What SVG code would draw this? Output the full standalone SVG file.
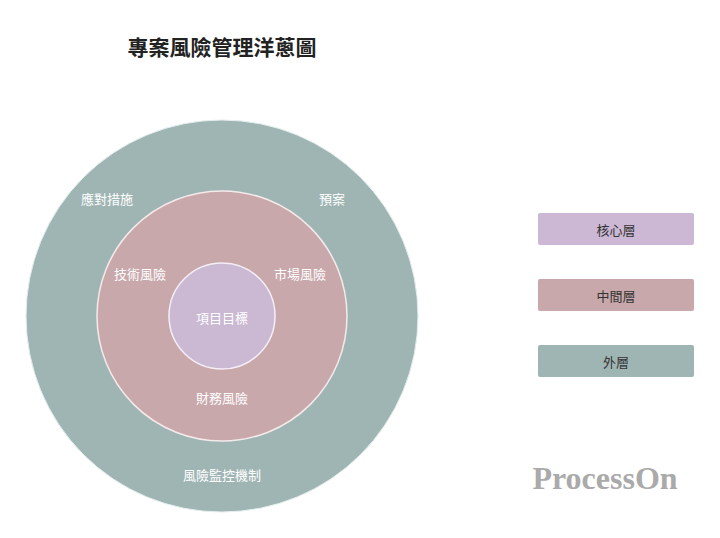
<svg xmlns="http://www.w3.org/2000/svg" width="720" height="538" viewBox="0 0 720 538">
<style>
.lbl{font-family:"Noto Sans CJK TC","Noto Sans CJK SC",sans-serif;font-size:13px;fill:#ffffff;text-anchor:middle;dominant-baseline:central}
.leg{font-family:"Noto Sans CJK TC","Noto Sans CJK SC",sans-serif;font-size:13px;fill:#333333;text-anchor:middle;dominant-baseline:central}
</style>
<rect width="720" height="538" fill="#ffffff"/>
<text x="222" y="46" font-family="'Noto Sans CJK TC','Noto Sans CJK SC',sans-serif" font-size="21" font-weight="bold" fill="#222" text-anchor="middle" dominant-baseline="central">專案風險管理洋蔥圖</text>
<g id="outer"><circle cx="222" cy="316" r="196" fill="#9fb5b4" stroke="#e4eeee" stroke-width="1"/>
<text class="lbl" x="107" y="198">應對措施</text><text class="lbl" x="332" y="198">預案</text><text class="lbl" x="222" y="474">風險監控機制</text></g>
<g id="middle"><circle cx="222" cy="316" r="125" fill="#c8a8ab" stroke="#f4eaea" stroke-width="1.5"/>
<text class="lbl" x="140" y="273">技術風險</text><text class="lbl" x="300" y="273">市場風險</text><text class="lbl" x="222" y="397">財務風險</text></g>
<g id="core"><circle cx="222" cy="316" r="53" fill="#cbb9d3" stroke="#f4eef6" stroke-width="1.5"/>
<text class="lbl" x="222" y="317">項目目標</text></g>
<g id="legend-core"><rect x="538" y="213" width="156" height="32" rx="2" fill="#ccb8d4"/><text class="leg" x="616" y="229">核心層</text></g>
<g id="legend-mid"><rect x="538" y="279" width="156" height="32" rx="2" fill="#c8a8ab"/><text class="leg" x="616" y="295">中間層</text></g>
<g id="legend-outer"><rect x="538" y="345" width="156" height="32" rx="2" fill="#9fb5b4"/><text class="leg" x="616" y="361">外層</text></g>
<g id="connectors"/>
<text x="605" y="489" font-family="'Liberation Serif',serif" font-size="32" font-weight="bold" fill="#aaaaaa" text-anchor="middle">ProcessOn</text>
</svg>
